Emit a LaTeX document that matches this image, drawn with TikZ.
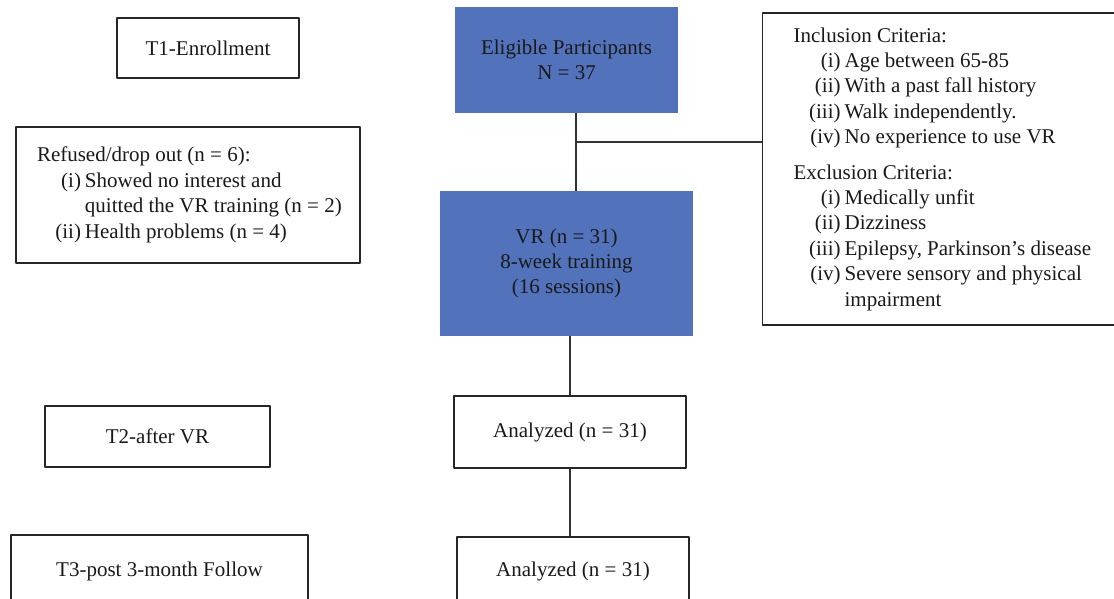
\documentclass[tikz,border=0pt]{standalone}
\usepackage{fontspec}
\setmainfont{Liberation Serif}
\usetikzlibrary{positioning}
\definecolor{vrblue}{RGB}{82,115,188}
\newcommand{\lbl}[2]{\makebox[#1][r]{#2}}
\begin{document}
\begin{tikzpicture}[x=0.5pt,y=-0.5pt, line join=round,
  every node/.style={font=\fontsize{10.5}{12.7}\selectfont, text=black!90},
  box/.style={draw=black!85, line width=0.6pt, inner sep=0pt, align=center},
  bluebox/.style={fill=vrblue, inner sep=0pt, align=center},
  link/.style={draw=black!80, line width=0.6pt}]
\useasboundingbox (0,0) rectangle (1114,599);
\clip (0,0) rectangle (1114,599);
% time points
\node[box, minimum width=91pt, minimum height=30pt] (t1) at (208,48) {T1-Enrollment};
\node[box, minimum width=112.5pt, minimum height=30.5pt] (t2) at (157.5,436.5) {T2-after VR};
\node[box, minimum width=148.5pt, minimum height=36pt] (t3) at (159.5,571) {T3-post 3-month Follow};
% main flow
\node[bluebox, minimum width=111.5pt, minimum height=53pt] (elig) at (566.5,60) {Eligible Participants\\N = 37};
\node[bluebox, minimum width=126.5pt, minimum height=72.5pt] (vr) at (566.5,263.5) {VR (n = 31)\\8-week training\\(16 sessions)};
\node[box, minimum width=116pt, minimum height=36pt] (an1) at (570,432) {Analyzed (n = 31)};
\node[box, minimum width=116pt, minimum height=34pt] (an2) at (573,571) {Analyzed (n = 31)};
% side boxes
\node[box, align=left, inner xsep=10.5pt, text width=151pt, minimum height=68pt] (drop) at (188,195) {%
\spaceskip=0pt\xspaceskip=0pt
\begin{tabular}{@{}r@{\hspace{2pt}}l@{}}
\multicolumn{2}{@{}l@{}}{Refused/drop out (n = 6):}\\
\lbl{22pt}{(i)} & Showed no interest and\\
 & quitted the VR training (n = 2)\\
(ii) & Health problems (n = 4)
\end{tabular}};
\node[box, anchor=west, align=left, inner xsep=15.5pt, text width=175pt, minimum height=156pt] (crit) at (762,169) {%
\spaceskip=0pt\xspaceskip=0pt
\begin{tabular}{@{}r@{\hspace{2pt}}l@{}}
\multicolumn{2}{@{}l@{}}{Inclusion Criteria:}\\
\lbl{23.5pt}{(i)} & Age between 65-85\\
(ii) & With a past fall history\\
(iii) & Walk independently.\\
(iv) & No experience to use VR\\[5pt]
\multicolumn{2}{@{}l@{}}{Exclusion Criteria:}\\
(i) & Medically unfit\\
(ii) & Dizziness\\
(iii) & Epilepsy, Parkinson’s disease\\
(iv) & Severe sensory and physical\\
 & impairment
\end{tabular}};
% connectors
\coordinate (split) at (576,142);
\draw[link] (elig.south -| split) -- (vr.north -| split);
\draw[link] (split) -- (crit.west |- split);
\draw[link] (vr.south -| an1) -- (an1.north);
\draw[link] (an1.south) -- (an1.south |- an2.north);
\end{tikzpicture}
\end{document}
